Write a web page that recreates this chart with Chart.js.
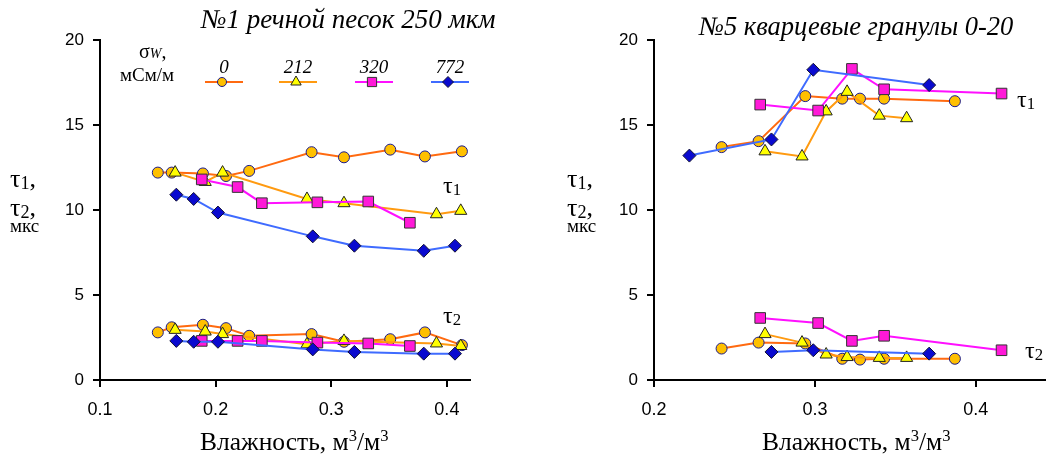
<!DOCTYPE html>
<html>
<head>
<meta charset="utf-8">
<script src="https://cdn.jsdelivr.net/npm/chart.js@4"></script>
<style>
  body { margin: 0; background: #fff; }
  #wrap { position: relative; width: 1060px; height: 461px; overflow: hidden; }
  canvas { position: absolute; top: 0; }
  .t { position: absolute; font-family: "Liberation Serif", "Times New Roman", serif; color: #000; white-space: nowrap; }
  .it { font-style: italic; }
  .tau { font-size: 26px; line-height: 26px; }
  .mks { font-size: 19px; line-height: 19px; }
  sub { font-size: 70%; vertical-align: -2px; }
  sup { font-size: 65%; vertical-align: 9px; }
</style>
</head>
<body>
<div id="wrap">
  <canvas id="left" width="530" height="461" style="left:0"></canvas>
  <canvas id="right" width="530" height="461" style="left:530px"></canvas>

  <div class="t it" style="left:201px;top:4px;font-size:27px">№1 речной песок 250 мкм</div>
  <div class="t it" style="left:699px;top:11px;font-size:26.5px">№5 кварцевые гранулы 0-20</div>

  <div class="t tau" style="left:10px;top:166px">τ<sub>1</sub>,</div>
  <div class="t tau" style="left:10px;top:195px">τ<sub>2</sub>,</div>
  <div class="t mks" style="left:10px;top:216px">мкс</div>
  <div class="t tau" style="left:567px;top:166px">τ<sub>1</sub>,</div>
  <div class="t tau" style="left:567px;top:195px">τ<sub>2</sub>,</div>
  <div class="t mks" style="left:567px;top:216px">мкс</div>

  <div class="t" style="left:443px;top:172px;font-size:24px">τ<sub>1</sub></div>
  <div class="t" style="left:443px;top:302px;font-size:24px">τ<sub>2</sub></div>
  <div class="t" style="left:1017px;top:86px;font-size:24px">τ<sub>1</sub></div>
  <div class="t" style="left:1025px;top:337px;font-size:24px">τ<sub>2</sub></div>

  <div class="t" style="left:200px;top:426px;font-size:25.5px">Влажность, м<sup>3</sup>/м<sup>3</sup></div>
  <div class="t" style="left:762px;top:426px;font-size:25.5px">Влажность, м<sup>3</sup>/м<sup>3</sup></div>

  <div class="t" style="left:139px;top:40px;font-size:20px">σ<span class="it" style="font-size:14px">W</span>,</div>
  <div class="t" style="left:120px;top:64px;font-size:19px">мСм/м</div>
</div>
<script>
// legend values of sigma_W, mS/m
const sigmaLabels = ['0', '212', '320', '772'];
const lineColors = ['#FF6A10', '#FF9A10', '#FF10FF', '#3F6BFF'];

// --- №1 river sand: moisture and tau values ---
const l1x0 = [0.150, 0.162, 0.189, 0.209, 0.229, 0.283, 0.311, 0.351, 0.381, 0.413];
const l1t1_0 = [12.2, 12.2, 12.15, 12.0, 12.3, 13.4, 13.1, 13.55, 13.15, 13.45];
const l1t2_0 = [2.8, 3.1, 3.25, 3.05, 2.6, 2.7, 2.25, 2.4, 2.8, 2.05];

const l1x212 = [0.165, 0.191, 0.206, 0.279, 0.311, 0.391, 0.412];
const l1t1_212 = [12.2, 11.65, 12.2, 10.65, 10.4, 9.75, 9.95];
const l1t2_212 = [2.95, 2.85, 2.7, 2.1, 2.3, 2.15, 2.0];

const l1x320 = [0.188, 0.219, 0.240, 0.288, 0.332, 0.368];
const l1t1_320 = [11.8, 11.35, 10.4, 10.45, 10.5, 9.25];
const l1t2_320 = [2.3, 2.3, 2.3, 2.2, 2.15, 2.0];

const l1x772 = [0.166, 0.181, 0.202, 0.284, 0.320, 0.380, 0.407];
const l1t1_772 = [10.9, 10.65, 9.85, 8.45, 7.9, 7.6, 7.9];
const l1t2_772 = [2.3, 2.25, 2.25, 1.8, 1.65, 1.55, 1.55];

// --- №5 quartz granules ---
const r5x0 = [0.242, 0.265, 0.294, 0.317, 0.328, 0.343, 0.387];
const r5t1_0 = [13.7, 14.05, 16.7, 16.55, 16.55, 16.55, 16.4];
const r5t2_0 = [1.85, 2.2, 2.15, 1.25, 1.2, 1.25, 1.25];

const r5x212 = [0.269, 0.292, 0.307, 0.320, 0.340, 0.357];
const r5t1_212 = [13.45, 13.15, 15.8, 16.95, 15.55, 15.4];
const r5t2_212 = [2.7, 2.2, 1.5, 1.35, 1.3, 1.3];

const r5x320 = [0.266, 0.302, 0.323, 0.343, 0.416];
const r5t1_320 = [16.2, 15.85, 18.3, 17.1, 16.85];
const r5t2_320 = [3.65, 3.35, 2.3, 2.6, 1.75];

const r5x772 = [0.222, 0.273, 0.299, 0.371];
const r5t1_772 = [13.2, 14.15, 18.25, 17.35];
const r5t2_772 = [null, 1.65, 1.75, 1.55];

const yTicks = [0, 5, 10, 15, 20];

const markers = [
  { pointStyle: 'circle', radius: 5.5, bg: '#FFC000', border: '#1A1A8C' },
  { pointStyle: 'triangle', radius: 7, bg: '#FFFF00', border: '#222222' },
  { pointStyle: 'rect', radius: 7.5, bg: '#FF19D8', border: '#333333' },
  { pointStyle: 'rectRot', radius: 6.5, bg: '#0A0ACF', border: '#111133' }
];

function pts(xs, ys) {
  return xs.map((x, i) => ({ x: x, y: ys[i] })).filter(p => p.y !== null);
}

function makeSets(groups) {
  const sets = [];
  groups.forEach((g, i) => {
    const m = markers[i];
    [g[1], g[2]].forEach(ys => {
      sets.push({
        data: pts(g[0], ys),
        showLine: true,
        borderColor: lineColors[i],
        borderWidth: 2,
        pointStyle: m.pointStyle,
        pointRadius: m.radius,
        pointBackgroundColor: m.bg,
        pointBorderColor: m.border,
        pointBorderWidth: 1,
        order: 4 - i
      });
    });
  });
  return sets;
}

const legendPlugin = {
  id: 'sigmaLegend',
  afterDraw(chart) {
    const ctx = chart.ctx;
    const xs = [224, 298, 374, 450];
    ctx.save();
    sigmaLabels.forEach((lab, i) => {
      ctx.font = 'italic 19px "Liberation Serif"';
      ctx.fillStyle = '#000';
      ctx.textAlign = 'center';
      ctx.textBaseline = 'alphabetic';
      ctx.fillText(lab, xs[i], 73);
      ctx.strokeStyle = lineColors[i];
      ctx.lineWidth = 2;
      ctx.beginPath();
      ctx.moveTo(xs[i] - 19, 82);
      ctx.lineTo(xs[i] + 19, 82);
      ctx.stroke();
      const m = markers[i];
      ctx.fillStyle = m.bg;
      ctx.strokeStyle = m.border;
      ctx.lineWidth = 1;
      Chart.helpers.drawPoint(ctx, { pointStyle: m.pointStyle, radius: m.radius - 1, borderWidth: 1, rotation: 0 }, xs[i] - 2, 82);
    });
    ctx.restore();
  }
};

function makeChart(id, groups, xmin, xmax, yWidth, padRight, extra) {
  return new Chart(document.getElementById(id), {
    type: 'scatter',
    data: { datasets: makeSets(groups) },
    options: {
      responsive: false,
      animation: false,
      layout: { padding: { top: 40, right: padRight, bottom: 0, left: 0 } },
      plugins: { legend: { display: false }, tooltip: { enabled: false } },
      scales: {
        x: {
          type: 'linear', min: xmin, max: xmax,
          afterFit(s) { s.height = 81; },
          afterBuildTicks(s) {
            const t = [];
            for (let v = Math.ceil(xmin * 10 - 1e-9); v / 10 <= xmax + 1e-9; v++) t.push({ value: v / 10 });
            s.ticks = t;
          },
          ticks: { color: '#000', font: { family: 'Liberation Sans', size: 18 }, padding: 12, callback: v => v.toFixed(1) },
          grid: { drawOnChartArea: false, drawTicks: true, tickLength: 7, color: '#000', lineWidth: 2 },
          border: { display: true, color: '#000', width: 2 }
        },
        y: {
          min: 0, max: 20,
          afterFit(s) { s.width = yWidth; },
          afterBuildTicks(s) { s.ticks = yTicks.map(v => ({ value: v })); },
          ticks: { color: '#000', font: { family: 'Liberation Sans', size: 17 }, padding: 9 },
          grid: { drawOnChartArea: false, drawTicks: true, tickLength: 7, color: '#000', lineWidth: 2 },
          border: { display: true, color: '#000', width: 2 }
        }
      }
    },
    plugins: extra
  });
}

makeChart('left', [
  [l1x0, l1t1_0, l1t2_0],
  [l1x212, l1t1_212, l1t2_212],
  [l1x320, l1t1_320, l1t2_320],
  [l1x772, l1t1_772, l1t2_772]
], 0.1, 0.42, 100, 60, [legendPlugin]);

makeChart('right', [
  [r5x0, r5t1_0, r5t2_0],
  [r5x212, r5t1_212, r5t2_212],
  [r5x320, r5t1_320, r5t2_320],
  [r5x772, r5t1_772, r5t2_772]
], 0.2, 0.443, 124, 15, []);
</script>
</body>
</html>
